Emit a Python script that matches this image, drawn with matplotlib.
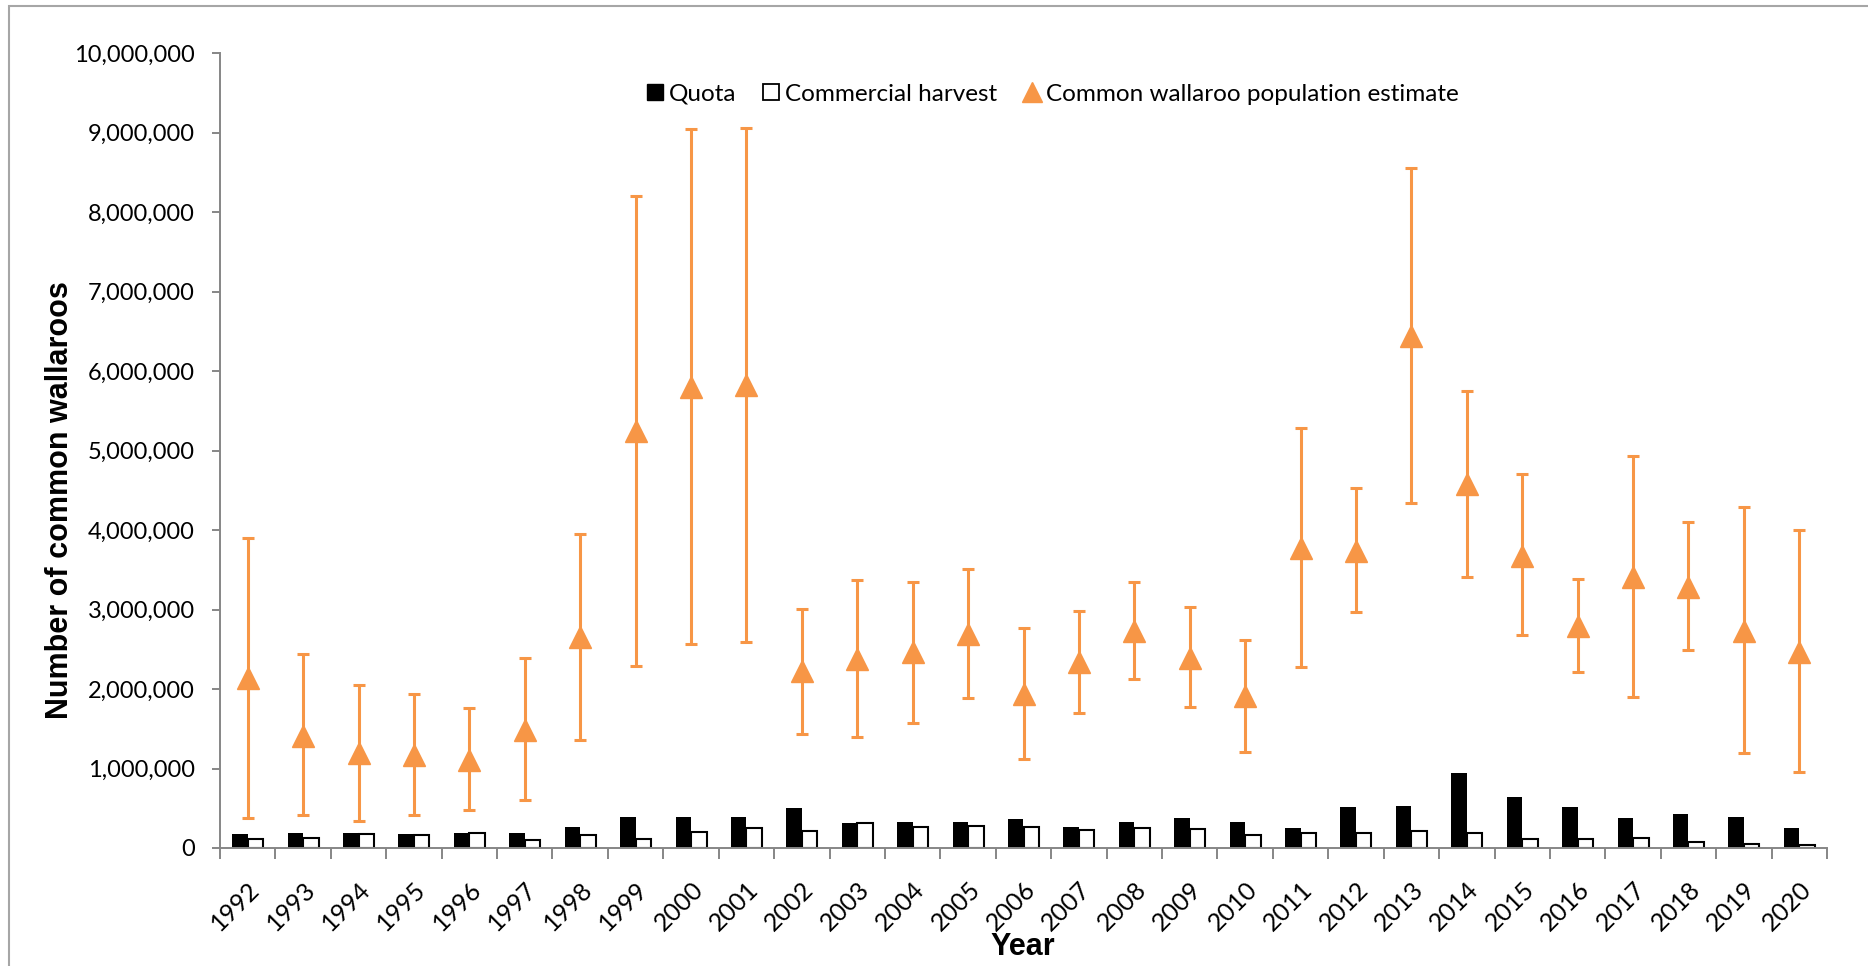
import matplotlib.pyplot as plt
import numpy as np
from matplotlib.lines import Line2D
from matplotlib.patches import Rectangle
from matplotlib.ticker import FuncFormatter, FixedLocator

years = [str(y) for y in range(1992, 2021)]

quota = [172000, 193000, 193000, 172000, 193000, 193000, 260000, 386000, 386000, 386000,
         499000, 310000, 327000, 331000, 369000, 264000, 323000, 382000, 331000, 256000,
         516000, 533000, 939000, 637000, 520000, 382000, 424000, 394000, 247000]
harvest = [116000, 132000, 179000, 166000, 187000, 103000, 158000, 112000, 200000, 250000,
           208000, 313000, 267000, 279000, 258000, 225000, 246000, 237000, 162000, 187000,
           187000, 216000, 187000, 107000, 107000, 120000, 70000, 49000, 40000]

# population estimate with lower / upper confidence bounds
pop = [2135000, 1413000, 1191000, 1168000, 1107000, 1491000, 2655000, 5245000, 5803000, 5822000,
       2221000, 2378000, 2462000, 2697000, 1942000, 2336000, 2731000, 2395000, 1908000, 3775000,
       3739000, 6439000, 4578000, 3678000, 2794000, 3406000, 3289000, 2733000, 2469000]
pop_hi = [3897000, 2437000, 2047000, 1938000, 1758000, 2395000, 3955000, 8200000, 9043000, 9056000,
          3003000, 3372000, 3343000, 3515000, 2764000, 2978000, 3347000, 3033000, 2613000, 5281000,
          4526000, 8553000, 5746000, 4702000, 3385000, 4929000, 4106000, 4287000, 4001000]
pop_lo = [373000, 415000, 344000, 411000, 474000, 600000, 1355000, 2294000, 2567000, 2596000,
          1439000, 1401000, 1577000, 1892000, 1124000, 1695000, 2123000, 1770000, 1212000, 2274000,
          2966000, 4345000, 3414000, 2684000, 2219000, 1896000, 2487000, 1200000, 952000]

ORANGE = '#F79646'
GREY = '#868686'
FONT = 'Lato'

W, H = 1868, 966
fig = plt.figure(figsize=(W / 100, H / 100), dpi=100)
ax = fig.add_axes([220 / W, 1 - 848 / H, (1827 - 220) / W, (848 - 53.3) / H])

x = np.arange(len(years))
pop = np.array(pop)
err = [pop - np.array(pop_lo), np.array(pop_hi) - pop]
bw = 0.28

ax.bar(x - bw / 2, quota, bw, color='black', zorder=2)
ax.bar(x + bw / 2, harvest, bw, facecolor='white', edgecolor='black', linewidth=1.5, zorder=2)
ax.errorbar(x, pop, yerr=err, fmt='none', ecolor=ORANGE, elinewidth=2.2,
            capsize=4.3, capthick=2.2, zorder=3)
ax.plot(x, pop, linestyle='none', marker='^', markersize=16, color=ORANGE, zorder=4)

ax.set_xlim(-0.5, len(years) - 0.5)
ax.set_ylim(0, 10000000)
ax.set_yticks(np.arange(0, 10000001, 1000000))
ax.yaxis.set_major_formatter(FuncFormatter(lambda v, p: f'{int(v):,}'))

ax.set_xticks(x)
ax.set_xticklabels(years, rotation=45, ha='right', rotation_mode='anchor')
ax.xaxis.set_minor_locator(FixedLocator(np.arange(-0.5, len(years), 1.0)))
ax.tick_params(axis='x', which='major', length=0, pad=21)
ax.tick_params(axis='x', which='minor', length=8, width=1.4, color=GREY, direction='out')
ax.tick_params(axis='y', length=6, width=1.4, color=GREY, direction='out', pad=12)
for lab in ax.get_xticklabels():
    lab.set_fontfamily(FONT)
    lab.set_fontsize(18)
for lab in ax.get_yticklabels():
    lab.set_fontfamily(FONT)
    lab.set_fontsize(17)

for s in ['top', 'right']:
    ax.spines[s].set_visible(False)
for s in ['left', 'bottom']:
    ax.spines[s].set_color(GREY)
    ax.spines[s].set_linewidth(1.4)

fig.text(1023 / W, 1 - 947 / H, 'Year', ha='center', va='center',
         fontsize=22, fontweight='bold', family='Liberation Sans')
fig.text(60 / W, 1 - 500 / H, 'Number of common wallaroos', ha='center', va='center',
         rotation=90, fontsize=22, fontweight='bold', family='Liberation Sans')

handles = [
    Line2D([], [], linestyle='none', marker='s', markersize=11, color='black'),
    Line2D([], [], linestyle='none', marker='s', markersize=11, markerfacecolor='white',
           markeredgecolor='black', markeredgewidth=1.3),
    Line2D([], [], linestyle='none', marker='^', markersize=15, color=ORANGE),
]
labels = ['Quota', 'Commercial harvest', 'Common wallaroo population estimate']
fig.legend(handles, labels, loc='center', bbox_to_anchor=(1052 / W, 1 - 94 / H), ncol=3,
           frameon=False, handlelength=0.8, handletextpad=0.2, columnspacing=1.0,
           prop={'family': FONT, 'size': 17.5})

# chart area border
fig.add_artist(Rectangle((9 / W, -0.1), 1.2, 1.1 - 6 / H, transform=fig.transFigure,
                         fill=False, edgecolor='#A6A6A6', linewidth=1.5))

fig.savefig('out.png', dpi=100)
